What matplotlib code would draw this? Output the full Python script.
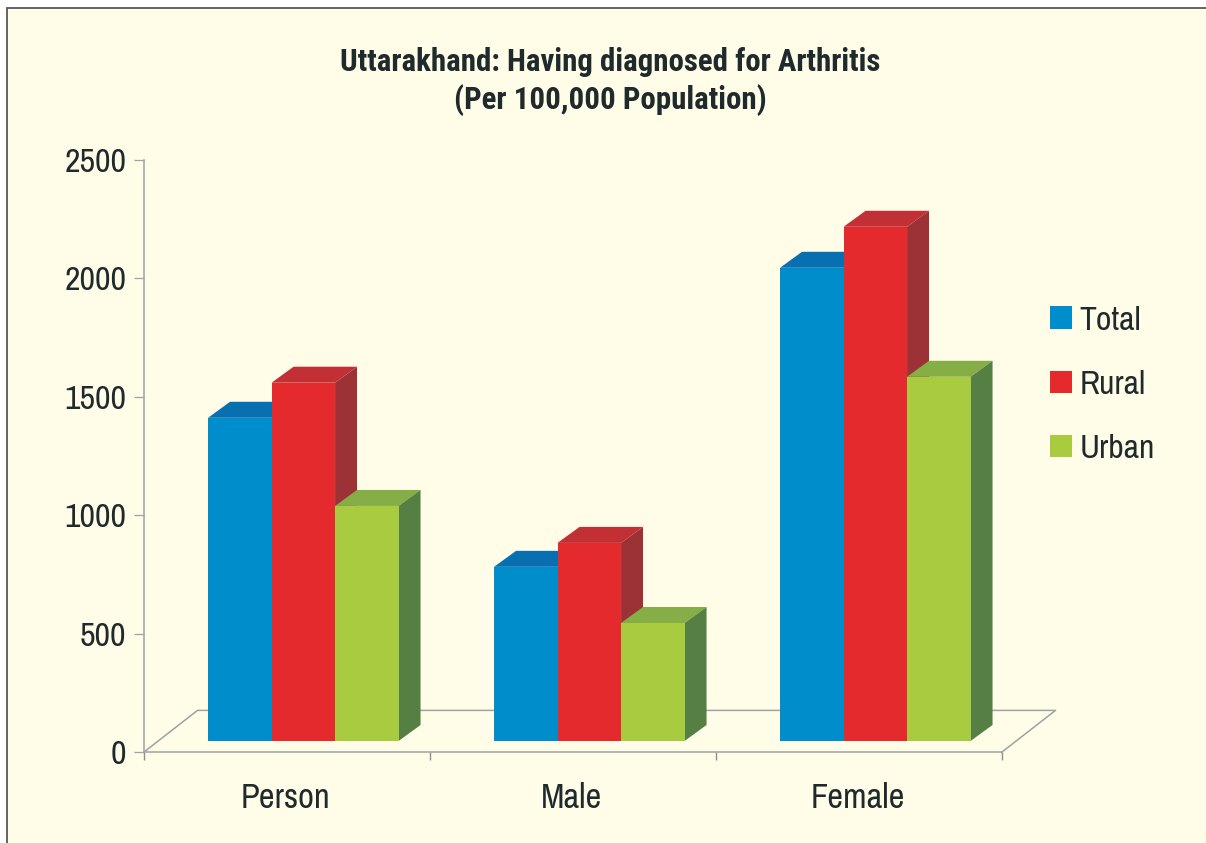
import matplotlib
matplotlib.use("Agg")
import matplotlib.pyplot as plt
from matplotlib.patches import Polygon, Patch, Rectangle

# --- data ---
categories = ["Person", "Male", "Female"]
series_names = ["Total", "Rural", "Urban"]
total = [1364, 735, 1997]
rural = [1512, 836, 2170]
urban = [992, 498, 1537]
y_ticks = [0, 500, 1000, 1500, 2000, 2500]
title_lines = "Uttarakhand: Having diagnosed for Arthritis\n(Per 100,000 Population)"

# --- styles ---
W, H = 1206, 843
BG = "#FFFDE8"
AXC = "#9EA3A3"
TXT = "#1E2A2C"
FONT = ["Archivo Narrow", "Liberation Sans", "DejaVu Sans"]
FONT_B = ["Roboto Condensed", "Liberation Sans", "DejaVu Sans"]
front = ["#008DCB", "#E52A2D", "#A8CB40"]
top = ["#0870B0", "#C22F35", "#86AE46"]
side = ["#0A5F94", "#9D3236", "#557F43"]

fig = plt.figure(figsize=(W / 100, H / 100), dpi=100, facecolor="white")
fig.add_artist(Rectangle((6.7 / W, -0.01), 1.1, 1.01 - 7.7 / H, transform=fig.transFigure,
                         facecolor=BG, edgecolor="#55585A", linewidth=1.3, zorder=-1))

L, R, T, B = 143.5, 1001.5, 160, 752.4
ax = fig.add_axes([L / W, 1 - B / H, (R - L) / W, (B - T) / H])
ax.patch.set_alpha(0)
ax.set_xlim(0, 3)
ax.set_ylim(0, 2500)

px = 3 / (R - L)          # x units per pixel
py = 2500 / (B - T)       # y units per pixel
bw = 63.5 * px
shift = 16.8 * px         # front of the floor
floor = 11.4 * py
ddx, ddy = 22 * px, 16 * py
fdx, fdy = 54 * px, 42 * py

# floor outline
ax.plot([0, fdx, 3 + fdx, 3], [0, fdy, fdy, 0], color=AXC, lw=1.1, clip_on=False, zorder=1)

for i in range(3):
    for s, vals in enumerate([total, rural, urban]):
        x0 = i + 0.5 + shift + (s - 1.5) * bw
        v = vals[i] + floor
        x1 = x0 + bw
        ax.add_patch(Polygon([(x0, v), (x0 + ddx, v + ddy), (x1 + ddx, v + ddy), (x1, v)],
                             facecolor=top[s], edgecolor="none", zorder=2 + s, clip_on=False))
        ax.add_patch(Polygon([(x1, floor), (x1 + ddx, floor + ddy), (x1 + ddx, v + ddy), (x1, v)],
                             facecolor=side[s], edgecolor="none", zorder=2 + s, clip_on=False))
        ax.bar(x0, vals[i], bw, bottom=floor, align="edge", color=front[s], linewidth=0,
               zorder=2 + s, clip_on=False)

for sp in ("top", "right"):
    ax.spines[sp].set_visible(False)
for sp in ("left", "bottom"):
    ax.spines[sp].set_color(AXC)
    ax.spines[sp].set_linewidth(1.1)

ax.set_yticks(y_ticks)
ax.set_xticks([0, 1, 2, 3])
ax.set_xticklabels([])
ax.tick_params(axis="y", length=7.5, width=0.9, color=AXC, pad=5, labelsize=24.4, labelcolor=TXT)
ax.tick_params(axis="x", length=6, width=1.0, color="#8A8F8F")
for lab in ax.get_yticklabels():
    lab.set_family(FONT)

for i, c in enumerate(categories):
    ax.annotate(c, xy=(i + 0.5, 0), xycoords="data", xytext=(-0.5, -46 * 0.72), textcoords="offset points",
                ha="center", va="center", fontsize=24.8, family=FONT, color=TXT, annotation_clip=False)

fig.text(610 / W, 1 - 81.5 / H, title_lines, ha="center", va="center", fontsize=22.2,
         fontweight="bold", family=FONT_B, color=TXT, linespacing=1.27)

handles = [Patch(facecolor=c, edgecolor="none") for c in front]
leg = ax.legend(handles, series_names, loc="upper left",
                bbox_to_anchor=(1050 / W, 1 - 305.5 / H), bbox_transform=fig.transFigure,
                frameon=False, borderpad=0, borderaxespad=0,
                prop={"family": FONT, "size": 24.4},
                handlelength=0.64, handleheight=0.64, handletextpad=0.24, labelspacing=1.01)
for t in leg.get_texts():
    t.set_color(TXT)

fig.savefig("out.png", dpi=100, facecolor="white")
